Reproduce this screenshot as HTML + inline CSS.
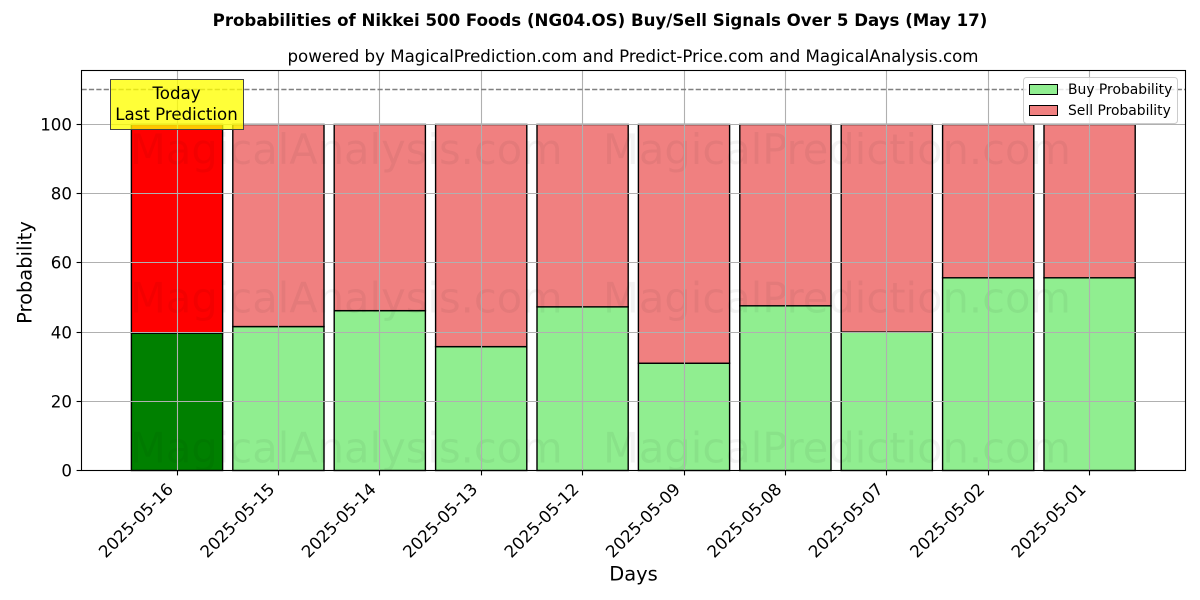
<!DOCTYPE html>
<html>
<head>
<meta charset="utf-8">
<title>Probabilities of Nikkei 500 Foods Buy/Sell Signals</title>
<style>
html,body{margin:0;padding:0;background:#fff;width:1200px;height:600px;overflow:hidden}
svg{display:block}
text{font-family:"DejaVu Sans","Liberation Sans",sans-serif;fill:#000}
</style>
</head>
<body>
<svg id="chart" width="1200" height="600" viewBox="0 0 1200 600" xmlns="http://www.w3.org/2000/svg">
<rect width="1200" height="600" fill="#fff"/>
<text x="600" y="26" text-anchor="middle" font-size="16.62" font-weight="bold">Probabilities of Nikkei 500 Foods (NG04.OS) Buy/Sell Signals Over 5 Days (May 17)</text>
<text x="633" y="62" text-anchor="middle" font-size="16.64">powered by MagicalPrediction.com and Predict-Price.com and MagicalAnalysis.com</text>
<g id="bars"></g>
<g font-size="41.6" opacity="0.045">
<text x="130" y="164">MagicalAnalysis.com</text>
<text x="603" y="164">MagicalPrediction.com</text>
<text x="130" y="312.5">MagicalAnalysis.com</text>
<text x="603" y="312.5">MagicalPrediction.com</text>
<text x="130" y="462.5">MagicalAnalysis.com</text>
<text x="603" y="462.5">MagicalPrediction.com</text>
</g>
<g id="grid"></g>
<line id="refline" x1="81.5" x2="1185.5" stroke="#808080" stroke-width="1.4" stroke-dasharray="5.2 2.2"/>
<rect x="81.5" y="70.5" width="1104" height="400" fill="none" stroke="#000" stroke-width="1.1"/>
<g id="ticks"></g>
<g>
<rect x="110.5" y="79.5" width="133" height="50" fill="#ffff00" fill-opacity="0.78" stroke="#444" stroke-width="1"/>
<text x="176.5" y="99" text-anchor="middle" font-size="16.64">Today</text>
<text x="176.5" y="120" text-anchor="middle" font-size="16.64">Last Prediction</text>
</g>
<g>
<rect x="1023.5" y="77.5" width="154" height="46" rx="3" fill="#fff" fill-opacity="0.8" stroke="#ccc" stroke-width="1"/>
<rect x="1029.5" y="84.5" width="28" height="10" fill="#90ee90" stroke="#000" stroke-width="1"/>
<text x="1068" y="94" font-size="13.89">Buy Probability</text>
<rect x="1029.5" y="105.5" width="28" height="10" fill="#f08080" stroke="#000" stroke-width="1"/>
<text x="1068" y="115" font-size="13.89">Sell Probability</text>
</g>
<text x="633.5" y="580.5" text-anchor="middle" font-size="19.44">Days</text>
<text transform="translate(31.5 272.5) rotate(-90)" text-anchor="middle" font-size="19.44">Probability</text>
</svg>
<script>
const categories = ['2025-05-16','2025-05-15','2025-05-14','2025-05-13','2025-05-12','2025-05-09','2025-05-08','2025-05-07','2025-05-02','2025-05-01'];
const buyValues = [39.7,41.6,46.2,35.8,47.3,31.0,47.6,40.0,55.7,55.7];
const sellValues = [60.3,58.4,53.8,64.2,52.7,69.0,52.4,60.0,44.3,44.3];
const yTicks = [0,20,40,60,80,100];
const referenceLevel = 110;

const NS = 'http://www.w3.org/2000/svg';
const xAxis = i => 177 + i * 101.4;
const yAxis = v => 470.5 - v * 3.46;
const barWidth = 91.2;

function make(tag, attrs, parent) {
  const el = document.createElementNS(NS, tag);
  for (const k in attrs) el.setAttribute(k, attrs[k]);
  parent.appendChild(el);
  return el;
}
const barsG = document.getElementById('bars');
const gridG = document.getElementById('grid');
const ticksG = document.getElementById('ticks');

categories.forEach((c, i) => {
  const x = xAxis(i) - barWidth / 2;
  const snapX = Math.floor(xAxis(i)) + 0.5;
  const buyTop = yAxis(buyValues[i]);
  const sellTop = yAxis(buyValues[i] + sellValues[i]);
  const buy = make('rect', {x: x, y: buyTop, width: barWidth, height: yAxis(0) - buyTop, fill: i === 0 ? '#008000' : '#90ee90', stroke: '#000', 'stroke-width': 1.4}, barsG);
  
  
  const sell = make('rect', {x: x, y: sellTop, width: barWidth, height: buyTop - sellTop, fill: i === 0 ? '#ff0000' : '#f08080', stroke: '#000', 'stroke-width': 1.4}, barsG);
  
  

  const g = make('line', {x1: snapX, x2: snapX, y1: 70.5, y2: 470.5, stroke: '#b0b0b0', 'stroke-width': 1.1}, gridG);
  
  

  const t = make('line', {x1: snapX, x2: snapX, y1: 470.5, y2: 475.4, stroke: '#000', 'stroke-width': 1.1}, ticksG);
  
  

  const lx = xAxis(i) - 11;
  const ly = 482;
  const lab = make('text', {transform: 'translate(' + lx + ' ' + ly + ') rotate(-45)', 'text-anchor': 'end', 'font-size': 16.67, dy: '0.7em'}, ticksG);
  lab.textContent = c;
  
  
});

yTicks.forEach(v => {
  const y = Math.round(yAxis(v) - 0.5) + 0.5;
  const g = make('line', {x1: 81.5, x2: 1185.5, y1: y, y2: y, stroke: '#b0b0b0', 'stroke-width': 1.1}, gridG);
  
  
  const t = make('line', {x1: 76.6, x2: 81.5, y1: y, y2: y, stroke: '#000', 'stroke-width': 1.1}, ticksG);
  
  
  const lab = make('text', {x: 72, y: y + 6.2, 'text-anchor': 'end', 'font-size': 16.67}, ticksG);
  lab.textContent = v;
  
  
});

const ref = document.getElementById('refline');
ref.setAttribute('y1', Math.floor(yAxis(referenceLevel) - 0.6) + 0.5);
ref.setAttribute('y2', Math.floor(yAxis(referenceLevel) - 0.6) + 0.5);
</script>
</body>
</html>
